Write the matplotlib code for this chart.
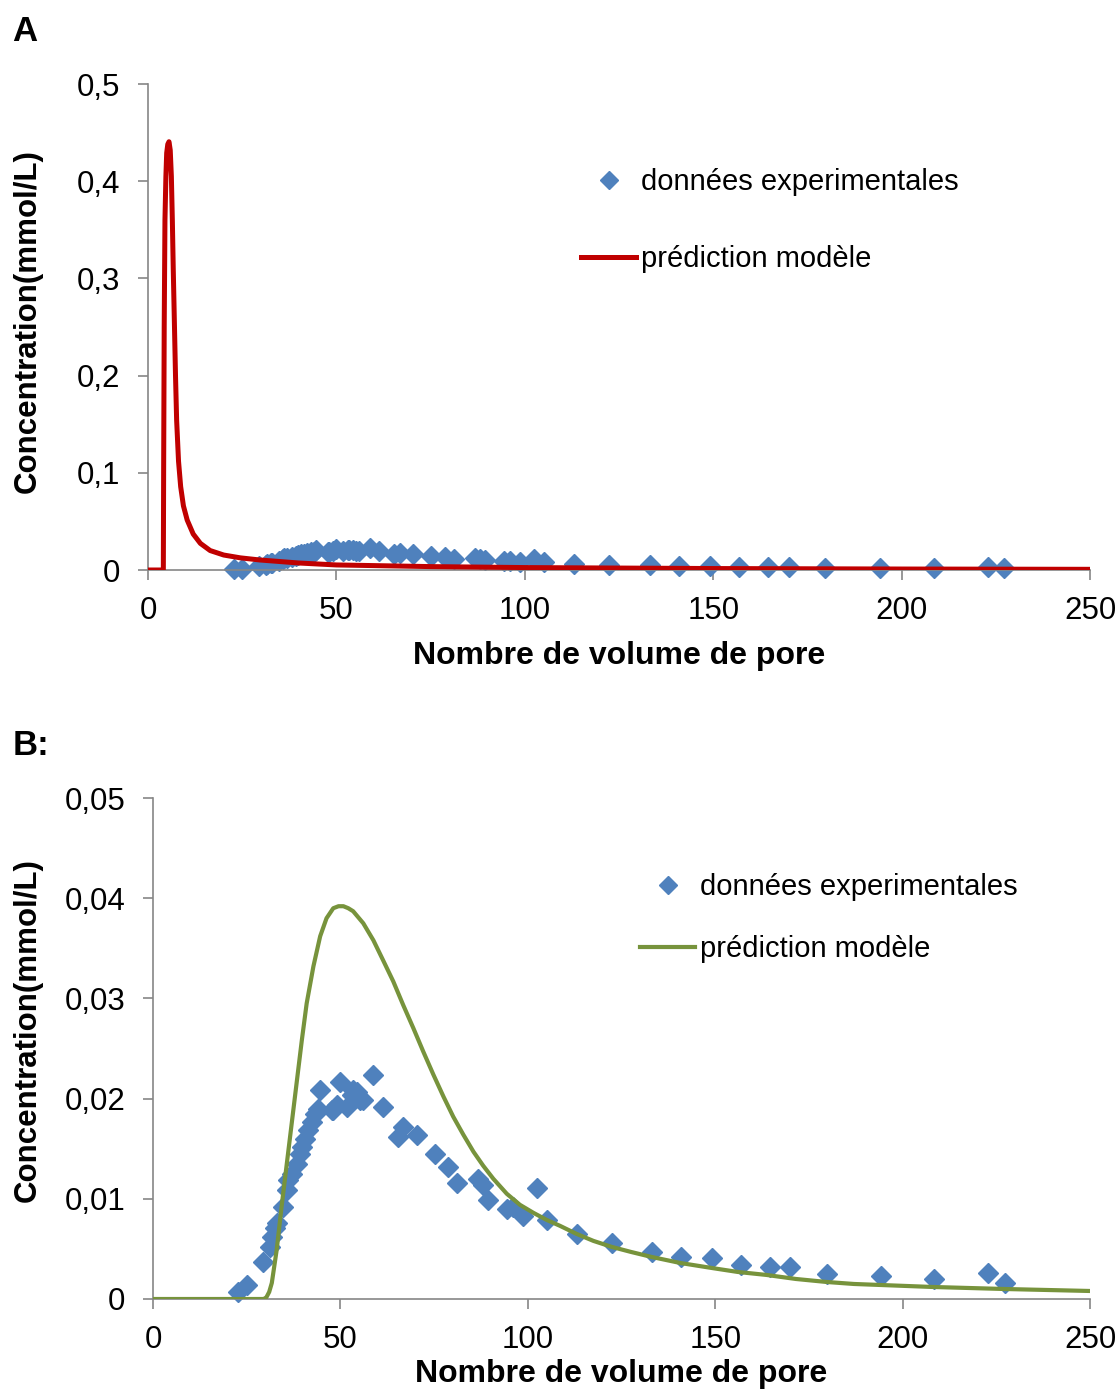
import matplotlib
matplotlib.use("Agg")
import matplotlib.pyplot as plt
from matplotlib.ticker import FixedLocator, FixedFormatter

plt.rcParams['font.family'] = ['Liberation Sans', 'DejaVu Sans']

# ---------------- data ----------------
exp_x = [22.8, 25.0, 29.4, 31.2, 31.7, 32.6, 33.0, 34.8, 35.7, 36.1, 37.0, 38.3,
         39.2, 39.7, 40.6, 41.4, 42.3, 43.2, 44.1, 44.6, 47.7, 48.1, 49.0, 49.9,
         51.7, 53.0, 53.4, 54.3, 55.2, 56.1, 58.8, 61.4, 65.4, 66.8, 70.4, 75.2,
         78.8, 81.2, 86.8, 88.1, 89.5, 94.4, 96.1, 98.8, 102.5, 105.0, 113.0,
         122.4, 133.1, 140.8, 149.1, 156.8, 164.6, 170.0, 179.7, 194.2, 208.5,
         222.9, 227.3]
exp_y = [0.0007, 0.0014, 0.0037, 0.0052, 0.0062, 0.0071, 0.0076, 0.0092, 0.0109,
         0.0119, 0.0125, 0.0135, 0.0145, 0.0152, 0.0160, 0.0169, 0.0177, 0.0185,
         0.0190, 0.0209, 0.0189, 0.0189, 0.0194, 0.0217, 0.0192, 0.0204, 0.0209,
         0.0207, 0.0199, 0.0199, 0.0224, 0.0192, 0.0162, 0.0172, 0.0164, 0.0145,
         0.0132, 0.0116, 0.0120, 0.0114, 0.0099, 0.0090, 0.0092, 0.0083, 0.0111,
         0.0079, 0.0065, 0.0056, 0.0047, 0.0042, 0.0041, 0.0034, 0.0032, 0.0032,
         0.0025, 0.0023, 0.0020, 0.0026, 0.0016]

modelA_x = [0, 4.07, 4.15, 4.3, 4.5, 4.75, 4.96, 5.25, 5.57, 5.9, 6.2, 6.46, 6.7,
            6.99, 7.3, 7.6, 8.1, 8.67, 9.4, 10.4, 12.0, 13.9, 16.5, 20.1, 24.5,
            29.7, 40, 50, 75, 100, 150, 200, 250]
modelA_y = [0, 0, 0.10, 0.25, 0.36, 0.405, 0.429, 0.438, 0.4406, 0.432, 0.405,
            0.360, 0.310, 0.257, 0.200, 0.154, 0.112, 0.0857, 0.066, 0.0514,
            0.037, 0.0274, 0.020, 0.0154, 0.0125, 0.0103, 0.0072, 0.0052, 0.0035,
            0.0025, 0.0015, 0.0010, 0.0007]

modelB_x = [0, 29.3, 29.8, 30.3, 31.0, 31.7, 33.0, 34.3, 35.7, 37.0, 38.3, 39.7,
            41.0, 42.8, 44.6, 46.3, 48.1, 49.5, 50.8, 52.1, 53.4, 56.1, 58.8,
            61.4, 64.1, 66.8, 69.5, 72.1, 74.8, 77.5, 80.1, 82.8, 85.5, 88.1,
            90.8, 94.4, 97.9, 101.5, 105.0, 108.6, 113, 117.5, 122.4, 127.5, 133,
            140.6, 149, 156, 163.7, 171.5, 179.7, 187, 194, 208, 227, 250]
modelB_y = [0, 0, 0.00003, 0.0002, 0.0007, 0.0016, 0.0049, 0.0092, 0.0135,
            0.0175, 0.0215, 0.0258, 0.0295, 0.0332, 0.0362, 0.0380, 0.0390,
            0.0392, 0.0392, 0.0390, 0.0387, 0.0375, 0.0358, 0.0338, 0.0317,
            0.0293, 0.0270, 0.0247, 0.0224, 0.0202, 0.0182, 0.0164, 0.0147,
            0.0133, 0.0120, 0.0105, 0.0094, 0.0086, 0.0079, 0.0073, 0.0065,
            0.0058, 0.0052, 0.0047, 0.0042, 0.0036, 0.0031, 0.0027, 0.0024,
            0.0020, 0.0017, 0.0015, 0.0014, 0.0012, 0.0010, 0.0008]

x_ticks = [0, 50, 100, 150, 200, 250]
x_ticklabels = ['0', '50', '100', '150', '200', '250']
yA_ticks = [0, 0.1, 0.2, 0.3, 0.4, 0.5]
yA_ticklabels = ['0', '0,1', '0,2', '0,3', '0,4', '0,5']
yB_ticks = [0, 0.01, 0.02, 0.03, 0.04, 0.05]
yB_ticklabels = ['0', '0,01', '0,02', '0,03', '0,04', '0,05']

label_exp = 'données experimentales'
label_model = 'prédiction modèle'
xlabel = 'Nombre de volume de pore'
ylabel = 'Concentration(mmol/L)'

BLUE = '#4F81BD'
RED = '#C00000'
GREEN = '#77933C'
GRAY = '#868686'

W, H = 1119, 1392
fig = plt.figure(figsize=(W / 100, H / 100), dpi=100)


def fig_rect(l, t, r, b):
    return [l / W, 1 - b / H, (r - l) / W, (b - t) / H]


def style_axes(ax, rect, yticks, yticklabels, ymax, xlab_y, ylab_y):
    l, t, r, b = rect
    ax.set_xlim(0, 250)
    ax.set_ylim(0, ymax)
    for s in ['top', 'right']:
        ax.spines[s].set_visible(False)
    for s in ['left', 'bottom']:
        ax.spines[s].set_color(GRAY)
        ax.spines[s].set_linewidth(1.2)
    ax.xaxis.set_major_locator(FixedLocator(x_ticks))
    ax.xaxis.set_major_formatter(FixedFormatter(x_ticklabels))
    ax.yaxis.set_major_locator(FixedLocator(yticks))
    ax.yaxis.set_major_formatter(FixedFormatter(yticklabels))
    ax.tick_params(axis='both', direction='out', length=7, width=1.2,
                   color=GRAY, labelsize=22.5, labelcolor='black')
    ax.tick_params(axis='x', pad=12)
    ax.tick_params(axis='y', pad=13)
    ax.set_xlabel(xlabel, fontsize=23, fontweight='bold')
    ax.set_ylabel(ylabel, fontsize=22.5, fontweight='bold')
    # label centres given in figure pixels -> axes fractions
    ax.xaxis.set_label_coords(((l + r) / 2 - l) / (r - l),
                              (b - xlab_y) / (b - t))
    ax.xaxis.label.set_va('center')
    ax.yaxis.set_label_coords((28 - l) / (r - l), (b - ylab_y) / (b - t))
    ax.yaxis.label.set_va('center')


# ---------------- panel A ----------------
rectA = (148, 84, 1090, 570)
axA = fig.add_axes(fig_rect(*rectA))
axA.plot(exp_x, exp_y, linestyle='none', marker='D', ms=10, color=BLUE,
         label=label_exp, clip_on=False, zorder=2)
axA.plot(modelA_x, modelA_y, color=RED, lw=3.6, label=label_model, zorder=3,
         solid_joinstyle='round')
style_axes(axA, rectA, yA_ticks, yA_ticklabels, 0.5, 656, 321)
axA.legend(loc='upper left', bbox_to_anchor=(581 / W, 1 - 168 / H),
           bbox_transform=fig.transFigure, frameon=False, fontsize=21,
           borderpad=0, borderaxespad=0, handlelength=1.9, handletextpad=0.15,
           labelspacing=1.68, markerscale=0.95)

# ---------------- panel B ----------------
rectB = (153, 798, 1090, 1299)
axB = fig.add_axes(fig_rect(*rectB))
axB.plot(exp_x, exp_y, linestyle='none', marker='D', ms=10, color=BLUE,
         label=label_exp, clip_on=False, zorder=2)
axB.plot(modelB_x, modelB_y, color=GREEN, lw=3, label=label_model, zorder=3,
         solid_joinstyle='round')
style_axes(axB, rectB, yB_ticks, yB_ticklabels, 0.05, 1374, 1030)
axB.legend(loc='upper left', bbox_to_anchor=(640 / W, 1 - 873 / H),
           bbox_transform=fig.transFigure, frameon=False, fontsize=21,
           borderpad=0, borderaxespad=0, handlelength=1.9, handletextpad=0.15,
           labelspacing=1.17, markerscale=0.95)

fig.text(12 / W, 1 - 41 / H, 'A', fontsize=25, fontweight='bold', ha='left',
         va='baseline')
fig.text(13 / W, 1 - 755 / H, 'B:', fontsize=25, fontweight='bold', ha='left',
         va='baseline')

fig.savefig('out.png', dpi=100)
